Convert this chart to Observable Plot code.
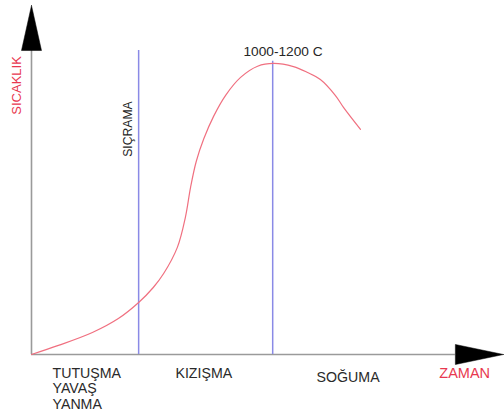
<!DOCTYPE html>
<html>
<head>
<meta charset="utf-8">
<script src="https://cdn.jsdelivr.net/npm/d3@7"></script>
<script src="https://cdn.jsdelivr.net/npm/@observablehq/plot@0.6"></script>
<style>
  html, body { margin: 0; padding: 0; background: #fff; }
  svg { overflow: visible; }
</style>
</head>
<body>
<div id="chart"></div>
<script>
// Fire temperature curve (arbitrary units: time 0-100, temperature 0-100)
const time = [0, 5.7, 12.9, 18.4, 22.7, 25.8, 28.0, 30.9, 32.6, 33.7, 34.9, 36.5, 38.6, 41.2, 44.3, 47.9, 51.3, 55.5, 58.5, 61.2, 64.4, 66.1, 69.7];
const temp = [0, 2.6, 6.3, 10.3, 14.9, 19.2, 23.2, 30.7, 39.3, 47.9, 55.3, 61.8, 68.3, 74.4, 79.4, 82.6, 83.4, 82.5, 80.8, 78.8, 74.2, 70.8, 64.5];

// Phase boundaries (vertical lines) and their top
const boundaryX = [22.7, 51.1];
const boundaryTop = [87.1, 84.0];

// Phase labels under the time axis
const phaseLabels = ["TUTUŞMA\nYAVAŞ\nYANMA", "KIZIŞMA", "SOĞUMA"];
const phaseLabelX = [4.45, 30.5, 60.4];
const phaseLabelY = [-9.74, -5.44, -6.59];

// Annotations
const peakLabel = "1000-1200 C";
const jumpLabel = "SIÇRAMA";
const yTitle = "SICAKLIK";
const xTitle = "ZAMAN";

// Axis extents
const yAxisEnd = 87.1, yTip = 100, yHalf = 2.12;
const xAxisEnd = 89.8, xTip = 100, xHalf = 2.87;

const curve = time.map((t, i) => ({t, v: temp[i]}));
const bounds = boundaryX.map((x, i) => ({x, top: boundaryTop[i]}));
const phases = phaseLabels.map((l, i) => ({l, x: phaseLabelX[i], y: phaseLabelY[i]}));
const yArrow = [{x: 0, y: yTip}, {x: -yHalf, y: yAxisEnd}, {x: yHalf, y: yAxisEnd}, {x: 0, y: yTip}];
const xArrow = [{x: xTip, y: 0}, {x: xAxisEnd, y: xHalf}, {x: xAxisEnd, y: -xHalf}, {x: xTip, y: 0}];

const font = "Liberation Sans, Arial, sans-serif";

const chart = Plot.plot({
  width: 504,
  height: 414,
  marginLeft: 31,
  marginRight: 1,
  marginTop: 5,
  marginBottom: 60,
  style: {fontFamily: font, background: "#fff"},
  x: {domain: [0, 100], axis: null},
  y: {domain: [0, 100], axis: null},
  marks: [
    // axes
    Plot.ruleX([0], {y1: 0, y2: yAxisEnd, stroke: "#9a9a9a", strokeWidth: 1.6}),
    Plot.ruleY([0], {x1: 0, x2: xAxisEnd, stroke: "#9a9a9a", strokeWidth: 1.6}),
    Plot.line(yArrow, {x: "x", y: "y", fill: "#000", stroke: "#000", strokeWidth: 0.5}),
    Plot.line(xArrow, {x: "x", y: "y", fill: "#000", stroke: "#000", strokeWidth: 0.5}),
    // phase boundaries
    Plot.ruleX(bounds, {x: "x", y1: 0, y2: "top", stroke: "#8a8ae6", strokeWidth: 1.5}),
    // curve
    Plot.line(curve, {x: "t", y: "v", curve: "catmull-rom", stroke: "#f07080", strokeWidth: 1.2}),
    // labels
    Plot.text([peakLabel], {x: 53.3, y: 86.8, text: d => d, fontSize: 13.7, fill: "#262626", textAnchor: "middle"}),
    Plot.text([jumpLabel], {x: 20.55, y: 64.6, text: d => d, rotate: -90, fontSize: 12.2, fill: "#262626", textAnchor: "middle"}),
    Plot.text([yTitle], {x: -3.05, y: 77.1, text: d => d, rotate: -90, fontSize: 13, fill: "#e8384f", textAnchor: "middle"}),
    Plot.text([xTitle], {x: 86.4, y: -5.44, text: d => d, fontSize: 14.5, fill: "#e8384f", textAnchor: "start"}),
    Plot.text(phases, {x: "x", y: "y", text: "l", fontSize: 14.2, fill: "#2a2a2a", textAnchor: "start", lineHeight: 1.1})
  ]
});
document.getElementById("chart").appendChild(chart);
</script>
</body>
</html>
